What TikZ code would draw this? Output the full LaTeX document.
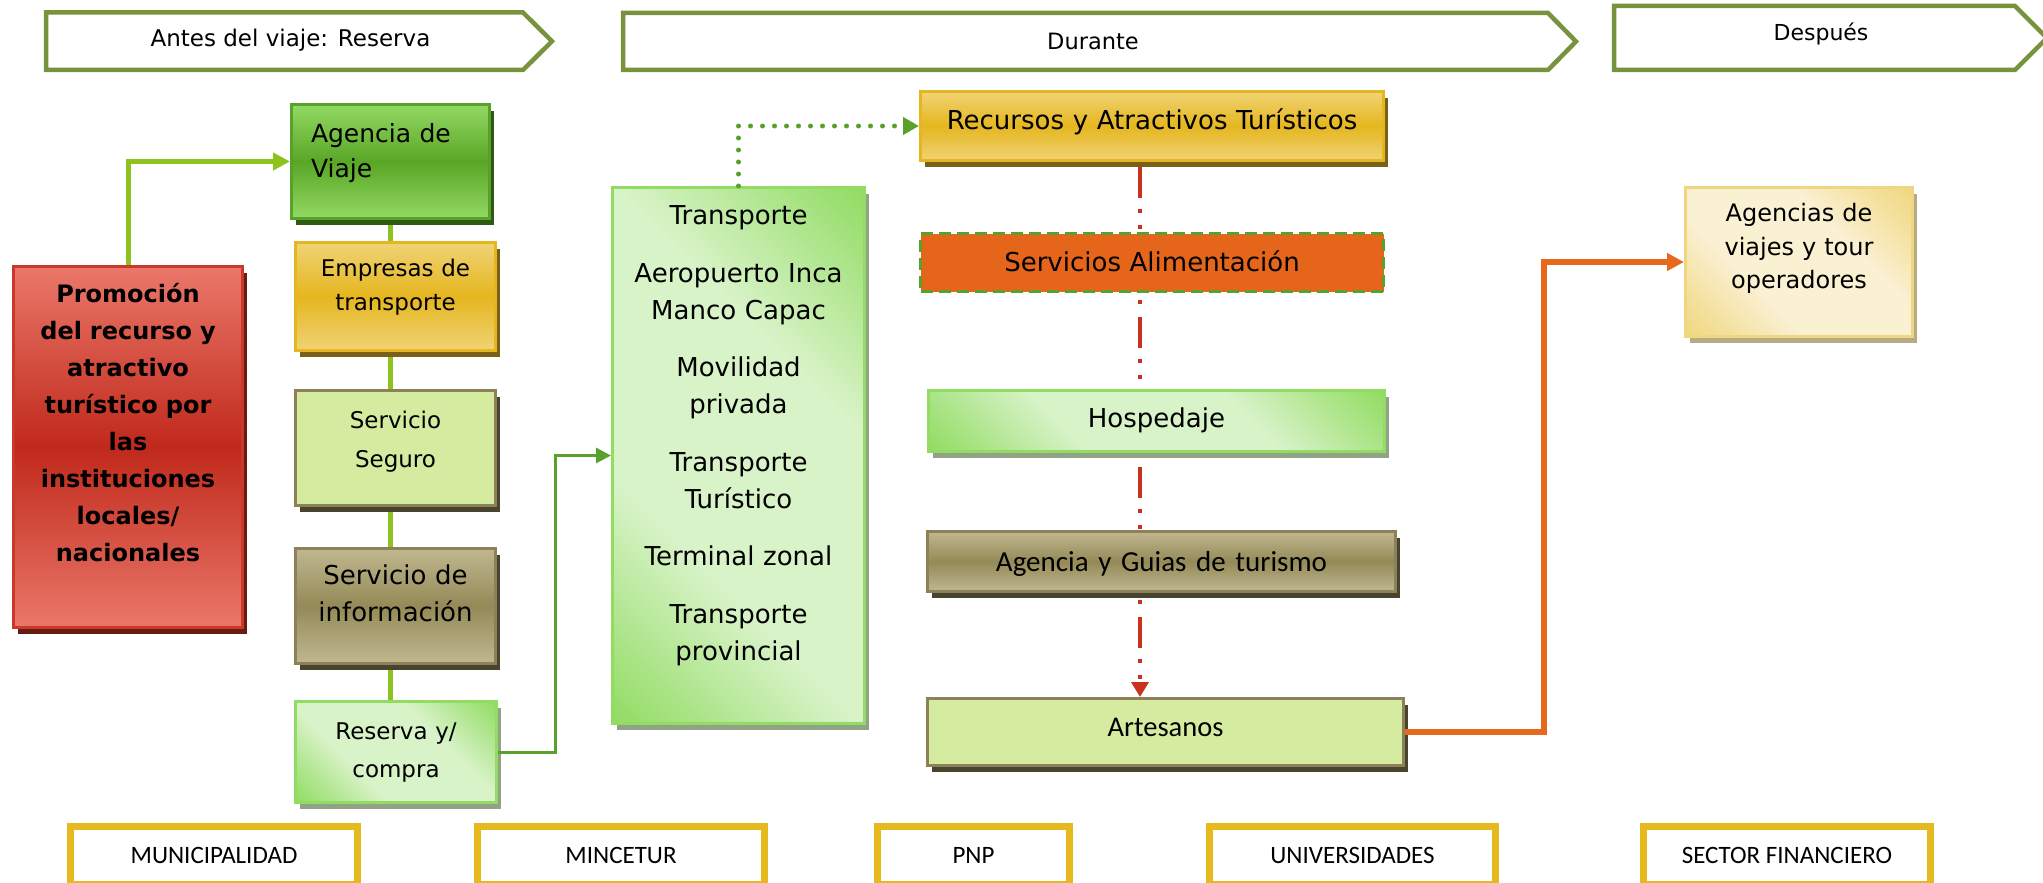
\documentclass[tikz,border=0pt]{standalone}
\usepackage{fontspec}
\setmainfont{DejaVu Sans}
\newfontfamily\calfont{Carlito}
\usetikzlibrary{arrows.meta, shadows, backgrounds}

\definecolor{hdrgreen}{RGB}{119,147,60}
\definecolor{linkgreen}{RGB}{141,194,31}
\definecolor{darkgreen}{RGB}{90,160,44}
\definecolor{aglight}{RGB}{146,217,98}
\definecolor{agdark}{RGB}{90,166,38}
\definecolor{agshadow}{RGB}{46,90,18}
\definecolor{goldlight}{RGB}{240,211,117}
\definecolor{golddark}{RGB}{229,182,31}
\definecolor{goldshadow}{RGB}{122,96,22}
\definecolor{lime}{RGB}{212,235,160}
\definecolor{khakibord}{RGB}{140,129,88}
\definecolor{khakishadow}{RGB}{72,68,46}
\definecolor{khakilight}{RGB}{192,183,145}
\definecolor{khakidark}{RGB}{148,138,87}
\definecolor{freshgreen}{RGB}{146,220,100}
\definecolor{freshlight}{RGB}{217,243,201}
\definecolor{freshshadow}{RGB}{146,162,135}
\definecolor{redlight}{RGB}{234,120,106}
\definecolor{reddark}{RGB}{192,41,27}
\definecolor{redbord}{RGB}{200,57,42}
\definecolor{redshadow}{RGB}{106,26,16}
\definecolor{foodorange}{RGB}{229,102,26}
\definecolor{creamgold}{RGB}{240,215,127}
\definecolor{cream}{RGB}{250,240,210}
\definecolor{creamshadow}{RGB}{181,172,134}
\definecolor{redline}{RGB}{200,50,30}
\definecolor{orangeline}{RGB}{232,105,30}
\definecolor{orggold}{RGB}{230,185,30}

\pgfdeclareverticalshading{freshdiag}{100bp}{color(0bp)=(freshgreen); color(15bp)=(freshgreen); color(37bp)=(freshlight); color(63bp)=(freshlight); color(85bp)=(freshgreen); color(100bp)=(freshgreen)}
\pgfdeclareverticalshading{creamdiag}{100bp}{color(0bp)=(creamgold); color(15bp)=(creamgold); color(37bp)=(cream); color(63bp)=(cream); color(85bp)=(creamgold); color(100bp)=(creamgold)}

\begin{document}
\begin{tikzpicture}[x=1pt, y=-1pt,
  shd/.style={drop shadow={shadow xshift=4pt, shadow yshift=-6pt, opacity=1, fill=#1}},
  box/.style={line width=3pt, inner sep=0pt, align=center},
  greenbox/.style={box, draw=darkgreen, top color=aglight, bottom color=aglight, middle color=agdark, shd=agshadow},
  goldbox/.style={box, draw=golddark, top color=goldlight, bottom color=goldlight, middle color=golddark, shd=goldshadow},
  limebox/.style={box, draw=khakibord, fill=lime, shd=khakishadow},
  khakibox/.style={box, draw=khakibord, top color=khakilight, bottom color=khakilight, middle color=khakidark, shd=khakishadow},
  freshbox/.style={box, draw=freshgreen, shade, shading=freshdiag, shading angle=-45, shd=freshshadow},
  redbox/.style={box, draw=redbord, top color=redlight, bottom color=redlight, middle color=reddark, shd=redshadow},
  creambox/.style={box, draw=creamgold, shade, shading=creamdiag, shading angle=-45, shd=creamshadow},
  stage/.style={draw=hdrgreen, line width=4.5pt, fill=white},
  stagetxt/.style={anchor=base, font=\fontsize{23}{28}\selectfont},
  org/.style={draw=orggold, line width=7pt, fill=white, minimum height=58pt, font=\calfont\fontsize{25}{30}\selectfont},
  link/.style={draw=linkgreen, line width=5.5pt}
]
\useasboundingbox (0,0) rectangle (2043,883);

\draw[stage] (46,12.5) -- (523,12.5) -- (552,41.25) -- (523,70) -- (46,70) -- cycle;
\draw[stage] (623,13) -- (1548,13) -- (1576,41.5) -- (1548,70) -- (623,70) -- cycle;
\draw[stage] (1614,6) -- (2015,6) -- (2047,38) -- (2015,70) -- (1614,70) -- cycle;
\node[stagetxt] (antes) at (290.5,46.5) {Antes del viaje: Reserva};
\node[stagetxt, font=\fontsize{22.5}{28}\selectfont] (durante) at (1093,49) {Durante};
\node[stagetxt, font=\fontsize{22}{28}\selectfont] (despues) at (1821,41) {Después};

\node[redbox, minimum width=229pt, minimum height=361pt, text width=220pt, text height=19pt, text depth=307.5pt, font=\bfseries\fontsize{24}{36.9}\selectfont] (promo) at (128,447) {Promoción\\del recurso y\\atractivo\\turístico por\\las\\instituciones\\locales/\\nacionales};
\node[greenbox, minimum width=198pt, minimum height=114pt, text width=159pt, align=left, text height=19pt, text depth=57.8pt, font=\fontsize{25}{35}\selectfont] (agencia) at (390.5,161.5) {Agencia de\\Viaje};
\node[goldbox, minimum width=200pt, minimum height=108pt, text width=190pt, text height=18pt, text depth=58.2pt, font=\fontsize{23}{34}\selectfont] (empresas) at (395.5,296.5) {Empresas de\\transporte};
\node[limebox, minimum width=200pt, minimum height=115pt, text width=190pt, text height=18pt, text depth=57.2pt, font=\fontsize{23}{39}\selectfont] (seguro) at (395.5,448) {Servicio\\Seguro};
\node[khakibox, minimum width=200pt, minimum height=115pt, text width=190pt, text height=20pt, text depth=63pt, font=\fontsize{26}{37}\selectfont] (info) at (395.5,606) {Servicio de\\información};
\node[freshbox, minimum width=201pt, minimum height=101pt, text width=190pt, text height=18pt, text depth=43.2pt, font=\fontsize{23}{38}\selectfont] (reserva) at (396,752) {Reserva y/\\compra};

\node[freshbox, minimum width=252pt, minimum height=536pt, text width=240pt, text height=20pt, text depth=482pt, font=\fontsize{26}{37}\selectfont] (transporte) at (738.5,455.5) {Transporte\\[20.5pt]Aeropuerto Inca\\Manco Capac\\[20.5pt]Movilidad\\privada\\[20.5pt]Transporte\\Turístico\\[20.5pt]Terminal zonal\\[20.5pt]Transporte\\provincial};

\node[goldbox, minimum width=463pt, minimum height=69pt, text width=450pt, text height=20pt, text depth=13pt, font=\fontsize{26}{31}\selectfont] (recursos) at (1152,126) {Recursos y Atractivos Turísticos};
\node[box, draw=darkgreen, fill=foodorange, dash pattern=on 12pt off 6pt, minimum width=463pt, minimum height=58pt, text width=450pt, text height=20pt, text depth=2pt, font=\fontsize{26}{31}\selectfont] (alimentacion) at (1152,262.5) {Servicios Alimentación};
\node[freshbox, minimum width=456pt, minimum height=61pt, text width=440pt, text height=20pt, text depth=7pt, font=\fontsize{26}{31}\selectfont] (hospedaje) at (1156.5,421) {Hospedaje};
\node[khakibox, minimum width=468pt, minimum height=60pt, text width=450pt, text height=21pt, text depth=1.4pt, font=\calfont\fontsize{29}{34}\selectfont] (guias) at (1161.5,561.5) {Agencia y Guias de turismo};
\node[limebox, minimum width=476pt, minimum height=67pt, text width=460pt, text height=20pt, text depth=11.6pt, font=\calfont\fontsize{28.5}{34}\selectfont] (artesanos) at (1165.5,732) {Artesanos};

\node[creambox, minimum width=227pt, minimum height=149pt, text width=215pt, text height=19pt, text depth=99.5pt, font=\fontsize{24}{33.5}\selectfont] (agencias) at (1799,262) {Agencias de\\viajes y tour\\operadores};

\node[org, minimum width=287pt] (muni) at (214,855.5) {MUNICIPALIDAD};
\node[org, minimum width=287pt] (mincetur) at (621,855.5) {MINCETUR};
\node[org, minimum width=192pt] (pnp) at (973.5,855.5) {PNP};
\node[org, minimum width=286pt] (univ) at (1352.5,855.5) {UNIVERSIDADES};
\node[org, minimum width=287pt] (sector) at (1787,855.5) {SECTOR FINANCIERO};

\begin{scope}[on background layer]
\draw[link] (agencia.south) -- (agencia.south |- reserva.north);
\draw[redline, line width=4pt, dash pattern=on 31pt off 11pt on 4pt off 12pt on 4pt off 13pt, dash phase=70.5pt, -{Triangle[length=15pt, width=17pt]}] ([xshift=-12pt]recursos.south) -- ([xshift=-12pt]recursos.south |- artesanos.north);
\end{scope}

\draw[link, line width=5pt, -{Triangle[length=17pt, width=17pt]}] (promo.north) |- (agencia.west);
\draw[darkgreen, line width=3pt, -{Triangle[length=15pt, width=15pt]}] (reserva.east) -- ++(57,0) |- (transporte.west);
\draw[darkgreen, line width=5pt, line cap=round, dash pattern=on 0pt off 12pt, -{Triangle[length=16pt, width=17pt]}] (transporte.north) |- (recursos.west);
\draw[orangeline, line width=6pt, -{Triangle[length=17pt, width=17pt]}] (artesanos.east) -- ++(139,0) |- (agencias.west);
\end{tikzpicture}
\end{document}
